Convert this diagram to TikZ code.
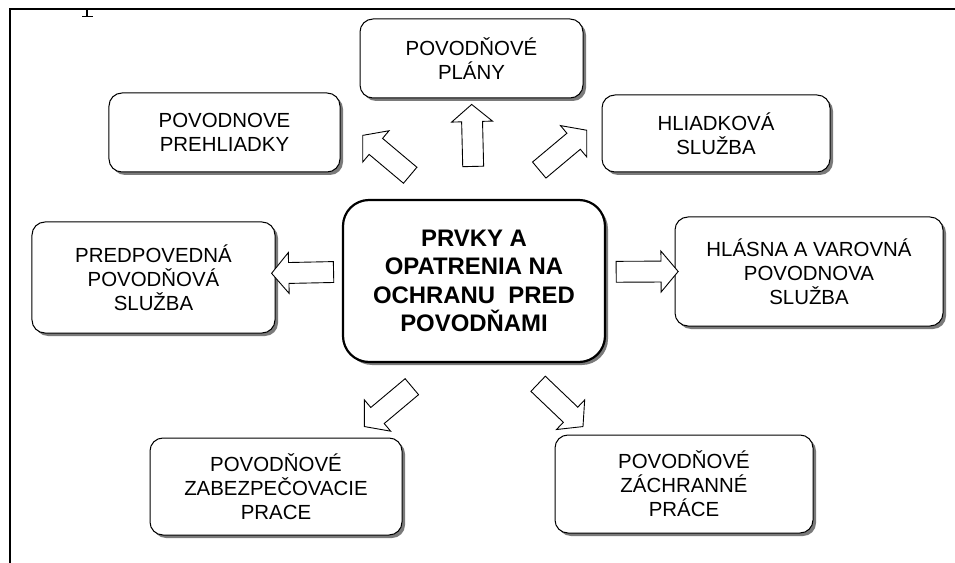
\documentclass[tikz,border=0pt]{standalone}
\usepackage{fontspec}
\setmainfont{Liberation Sans}
\usetikzlibrary{shapes.arrows, shadows}
\tikzset{
  box/.style={draw, fill=white, line width=1bp, rounded corners=13bp, align=center,
    inner sep=0pt, outer sep=0pt, font=\fontsize{20.5}{24}\selectfont,
    drop shadow={shadow xshift=3bp, shadow yshift=-3bp, fill=black!65, opacity=.8}},
  mainbox/.style={box, line width=2.2bp, rounded corners=26bp, font=\fontsize{24}{28.5}\selectfont\bfseries},
  blockarrow/.style={single arrow, draw, fill=white, line width=.9bp, inner xsep=0pt, inner ysep=10bp,
    outer sep=0pt, minimum height=62bp, single arrow head extend=10bp,
    single arrow tip angle=100, sloped, allow upside down}
}

\begin{document}
\begin{tikzpicture}[x=1bp, y=-1bp]
  \useasboundingbox (0,0) rectangle (955,563);
  \draw[line width=1.4bp] (955,9) -- (10,9) -- (10,563);
  \draw[line width=1.2bp] (87,9) -- (87,16) (82,16.5) -- (93,16.5);

  \node[mainbox, minimum width=262bp, minimum height=162bp] (prvky) at (474,281)
    {PRVKY A\\OPATRENIA NA\\OCHRANU\ \ PRED\\POVODŇAMI};
  \node[box, minimum width=223bp, minimum height=79bp] (plany) at (471.5,58.5) {POVODŇOVÉ\\PLÁNY};
  \node[box, minimum width=231bp, minimum height=79bp] (prehliadky) at (224.5,132.5) {POVODNOVE\\PREHLIADKY};
  \node[box, minimum width=228bp, minimum height=77bp] (hliadka) at (716,133.5) {HLIADKOVÁ\\SLUŽBA};
  \node[box, minimum width=243bp, minimum height=111bp] (predpoved) at (153.5,277.5) {PREDPOVEDNÁ\\POVODŇOVÁ\\SLUŽBA};
  \node[box, minimum width=268bp, minimum height=109bp] (hlasna) at (809,271.5) {HLÁSNA A VAROVNÁ\\POVODNOVA\\SLUŽBA};
  \node[box, minimum width=252bp, minimum height=97bp] (zabezpec) at (276,486.5) {POVODŇOVÉ\\ZABEZPEČOVACIE\\PRACE};
  \node[box, minimum width=258bp, minimum height=98bp] (zachrana) at (684,484) {POVODŇOVÉ\\ZÁCHRANNÉ\\PRÁCE};

  \foreach \from/\to/\p in {prvky.north/plany.south/.59, prvky.113/prehliadky.8/.5,
      prvky.70/hliadka.172/.57, prvky.176.5/predpoved.2/.53, prvky.4/hlasna.west/.54,
      prvky.248/zabezpec.33/.55, prvky.297/zachrana.152/.55}
    \path (\from) -- (\to) node[blockarrow, pos=\p] {};
\end{tikzpicture}
\end{document}
